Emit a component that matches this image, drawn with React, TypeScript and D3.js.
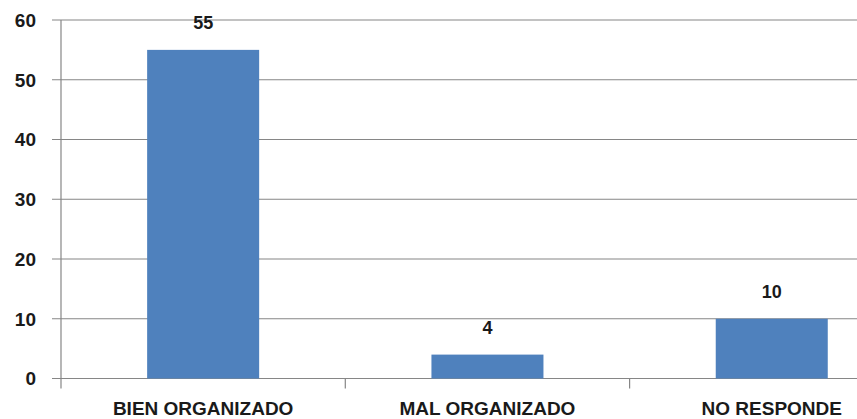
import React, { useEffect, useRef } from "react";
import * as d3 from "d3";

const categories = ["BIEN ORGANIZADO", "MAL ORGANIZADO", "NO RESPONDE"];
const values = [55, 4, 10];
const yTicks = [0, 10, 20, 30, 40, 50, 60];

const width = 857;
const height = 419;

const App: React.FC = () => {
  const ref = useRef<SVGSVGElement | null>(null);

  useEffect(() => {
    document.body.style.margin = "0";
    const svg = d3.select(ref.current);
    svg.selectAll("*").remove();

    const left = 61;
    const step = 284.3;
    const x = d3
      .scaleBand<string>()
      .domain(categories)
      .range([left, left + step * categories.length])
      .paddingInner(0.606)
      .paddingOuter(0.303);
    const y = d3.scaleLinear().domain([0, 60]).range([378.5, 20]);

    const font = "'Liberation Sans', Arial, sans-serif";

    // gridlines
    svg
      .append("g")
      .selectAll("line")
      .data(yTicks)
      .enter()
      .append("line")
      .attr("x1", left - 9)
      .attr("x2", width)
      .attr("y1", (d) => y(d))
      .attr("y2", (d) => y(d))
      .attr("stroke", "#868686")
      .attr("stroke-width", 1.2);

    // y axis line
    svg
      .append("line")
      .attr("x1", left)
      .attr("x2", left)
      .attr("y1", y(60))
      .attr("y2", y(0) + 10)
      .attr("stroke", "#868686")
      .attr("stroke-width", 1.2);

    // category boundary ticks
    const bounds = categories.slice(1).map((c) => x(c)! - x.step() * 0.303);
    svg
      .append("g")
      .selectAll("line")
      .data(bounds)
      .enter()
      .append("line")
      .attr("x1", (d) => d)
      .attr("x2", (d) => d)
      .attr("y1", y(0))
      .attr("y2", y(0) + 10)
      .attr("stroke", "#868686")
      .attr("stroke-width", 1.2);

    // bars
    svg
      .append("g")
      .selectAll("rect")
      .data(values)
      .enter()
      .append("rect")
      .attr("x", (d, i) => x(categories[i])!)
      .attr("y", (d) => y(d))
      .attr("width", x.bandwidth())
      .attr("height", (d) => y(0) - y(d))
      .attr("fill", "#4f81bd");

    // value labels
    svg
      .append("g")
      .selectAll("text")
      .data(values)
      .enter()
      .append("text")
      .attr("x", (d, i) => x(categories[i])! + x.bandwidth() / 2)
      .attr("y", (d) => y(d) - 21)
      .attr("text-anchor", "middle")
      .attr("font-family", font)
      .attr("font-weight", "bold")
      .attr("font-size", 18)
      .attr("fill", "#1a1a1a")
      .text((d) => d);

    // y tick labels
    svg
      .append("g")
      .selectAll("text")
      .data(yTicks)
      .enter()
      .append("text")
      .attr("x", 36)
      .attr("y", (d) => y(d))
      .attr("dy", "0.36em")
      .attr("text-anchor", "end")
      .attr("font-family", font)
      .attr("font-weight", "bold")
      .attr("font-size", 19)
      .attr("fill", "#1a1a1a")
      .text((d) => d);

    // category labels
    svg
      .append("g")
      .selectAll("text")
      .data(categories)
      .enter()
      .append("text")
      .attr("x", (d) => x(d)! + x.bandwidth() / 2)
      .attr("y", 415)
      .attr("text-anchor", "middle")
      .attr("font-family", font)
      .attr("font-weight", "bold")
      .attr("font-size", 19)
      .attr("fill", "#1a1a1a")
      .text((d) => d);
  }, []);

  return (
    <svg
      ref={ref}
      width={width}
      height={height}
      style={{ display: "block", background: "#fff" }}
    ></svg>
  );
};

export default App;
